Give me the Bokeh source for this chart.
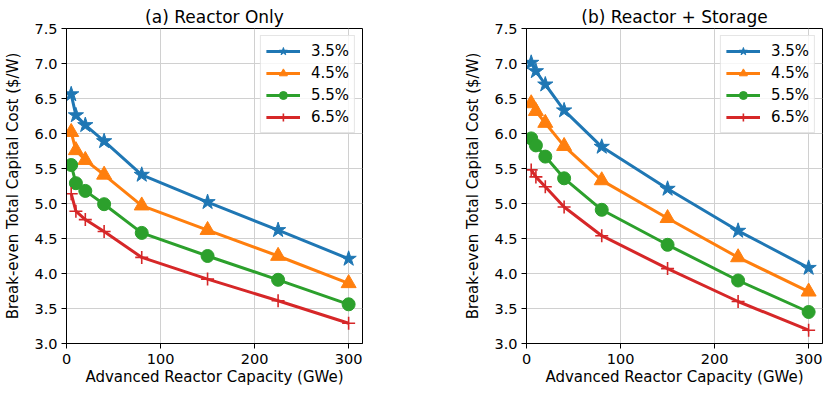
from bokeh.plotting import figure
from bokeh.layouts import row
from bokeh.models import FixedTicker, PrintfTickFormatter, Range1d, Legend
from bokeh.embed import file_html
from bokeh.resources import INLINE

# ---- data ----
capacity = [5, 10, 20, 40, 80, 150, 225, 300]
rate_labels = ["3.5%", "4.5%", "5.5%", "6.5%"]

# (a) Reactor Only
a_35 = [6.56, 6.26, 6.12, 5.89, 5.41, 5.02, 4.62, 4.21]
a_45 = [6.02, 5.76, 5.62, 5.41, 4.97, 4.62, 4.25, 3.86]
a_55 = [5.55, 5.29, 5.18, 4.99, 4.58, 4.25, 3.91, 3.56]
a_65 = [5.14, 4.89, 4.77, 4.60, 4.23, 3.92, 3.61, 3.29]

# (b) Reactor + Storage
b_35 = [7.01, 6.89, 6.70, 6.33, 5.81, 5.21, 4.61, 4.08]
b_45 = [6.43, 6.32, 6.15, 5.82, 5.33, 4.79, 4.23, 3.74]
b_55 = [5.93, 5.83, 5.67, 5.36, 4.91, 4.41, 3.90, 3.45]
b_65 = [5.48, 5.38, 5.24, 4.95, 4.54, 4.07, 3.60, 3.19]

y_ticks = [3.0, 3.5, 4.0, 4.5, 5.0, 5.5, 6.0, 6.5, 7.0, 7.5]
x_ticks = [0, 100, 200, 300]

colors = ["#1f77b4", "#ff7f0e", "#2ca02c", "#d62728"]
markers = ["star", "triangle", "circle", "cross"]
msizes = [16, 15, 13, 13]

FONT = "DejaVu Sans"


def make_fig(title, series, border_left, border_right, width):
    p = figure(width=width, height=390, output_backend="svg", toolbar_location=None,
               x_range=Range1d(0, 314.75), y_range=Range1d(3.0, 7.5),
               min_border_left=border_left, min_border_right=border_right,
               min_border_top=28, min_border_bottom=47)
    p.title.text = title
    p.title.align = "center"
    p.title.text_font = FONT
    p.title.text_font_size = "17px"
    p.title.text_font_style = "normal"
    p.title.text_color = "black"
    p.title.standoff = 4

    for ax in (p.xaxis[0], p.yaxis[0]):
        ax.major_label_text_font = FONT
        ax.major_label_text_font_size = "14.5px"
        ax.major_label_text_color = "black"
        ax.axis_label_text_font = FONT
        ax.axis_label_text_font_size = "15px"
        ax.axis_label_text_font_style = "normal"
        ax.axis_label_text_color = "black"
        ax.axis_line_color = "black"
        ax.major_tick_line_color = "black"
        ax.major_tick_out = 5
        ax.major_tick_in = 0
        ax.minor_tick_line_color = None

    p.xaxis.major_label_standoff = 5
    p.yaxis.major_label_standoff = 4
    p.xaxis.ticker = FixedTicker(ticks=x_ticks)
    p.yaxis.ticker = FixedTicker(ticks=y_ticks)
    p.yaxis.formatter = PrintfTickFormatter(format="%.1f")
    p.xaxis.axis_label = "Advanced Reactor Capacity (GWe)"
    p.yaxis.axis_label = "Break-even Total Capital Cost ($/W)"
    p.xaxis.axis_label_standoff = 1
    p.yaxis.axis_label_standoff = 9

    p.xgrid.grid_line_color = "#d0d0d0"
    p.ygrid.grid_line_color = "#d0d0d0"
    p.outline_line_color = "black"
    p.outline_line_width = 1
    p.background_fill_color = "white"
    p.border_fill_color = "white"

    items = []
    for vals, lab, c, m, s in zip(series, rate_labels, colors, markers, msizes):
        r1 = p.line(capacity, vals, line_color=c, line_width=3)
        if m == "cross":
            r2 = p.scatter(capacity, vals, marker=m, size=s, line_color=c, line_width=1.6)
        else:
            r2 = p.scatter(capacity, vals, marker=m, size=s, fill_color=c, line_color=c)
        items.append((lab, [r1, r2]))

    legend = Legend(items=items, location="top_right")
    legend.label_text_font = FONT
    legend.label_text_font_size = "15px"
    legend.label_text_color = "black"
    legend.glyph_width = 34
    legend.glyph_height = 20
    legend.label_height = 20
    legend.spacing = 2
    legend.padding = 5
    legend.margin = 7
    legend.label_standoff = 11
    legend.border_line_color = "#cccccc"
    legend.border_line_width = 1
    legend.background_fill_alpha = 0.8
    p.add_layout(legend)
    return p


pa = make_fig("(a) Reactor Only", [a_35, a_45, a_55, a_65], 66, 38, 400)
pb = make_fig("(b) Reactor + Storage", [b_35, b_45, b_55, b_65], 126, 8, 430)

layout = row(pa, pb)
open("out.html", "w").write(file_html(layout, INLINE))
